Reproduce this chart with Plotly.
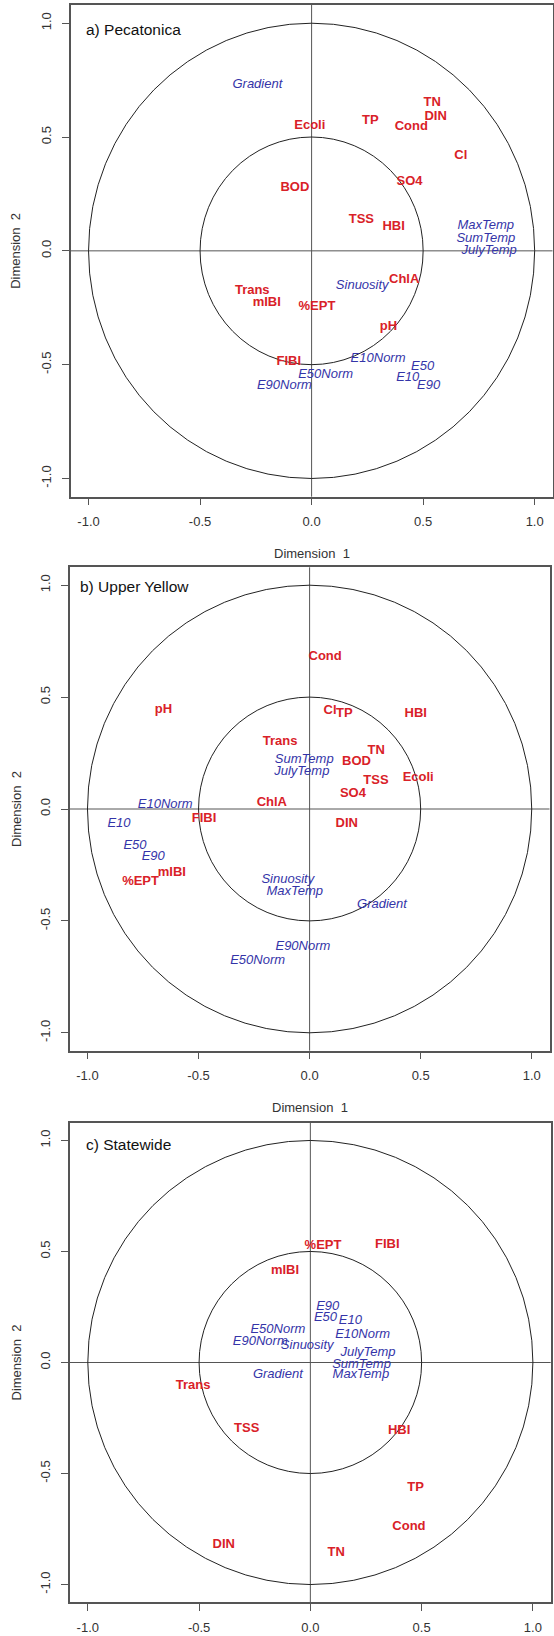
import plotly.graph_objects as go

W, H = 554, 1636

RED = "#d92128"
BLUE = "#3434a8"
FONT = "Liberation Sans, Arial, Helvetica, sans-serif"

TICK_VALS = [-1.0, -0.5, 0.0, 0.5, 1.0]
TICK_TEXT = ["-1.0", "-0.5", "0.0", "0.5", "1.0"]
CIRCLE_RADII = [1.0, 0.5]

# ---- a) Pecatonica ----
pec_title = "a) Pecatonica"
pec_resp_labels = ["Ecoli", "TP", "TN", "DIN", "Cond", "Cl", "SO4", "BOD", "TSS", "HBI",
                   "ChlA", "Trans", "mIBI", "%EPT", "pH", "FIBI"]
pec_resp_x = [-0.008, 0.263, 0.541, 0.556, 0.447, 0.669, 0.439, -0.075, 0.223, 0.368,
              0.415, -0.266, -0.201, 0.024, 0.345, -0.102]
pec_resp_y = [0.551, 0.572, 0.649, 0.591, 0.543, 0.419, 0.303, 0.276, 0.135, 0.104,
              -0.125, -0.174, -0.228, -0.244, -0.335, -0.485]
pec_env_labels = ["Gradient", "MaxTemp", "SumTemp", "JulyTemp", "Sinuosity", "E10Norm",
                  "E50", "E50Norm", "E10", "E90Norm", "E90"]
pec_env_x = [-0.243, 0.781, 0.781, 0.796, 0.227, 0.298, 0.498, 0.063, 0.431, -0.122, 0.525]
pec_env_y = [0.731, 0.112, 0.054, 0.000, -0.152, -0.476, -0.509, -0.546, -0.556, -0.593, -0.593]

# ---- b) Upper Yellow ----
uy_title = "b) Upper Yellow"
uy_resp_labels = ["Cond", "pH", "Cl", "TP", "HBI", "Trans", "TN", "BOD", "TSS", "Ecoli",
                  "SO4", "ChlA", "FIBI", "DIN", "mIBI", "%EPT"]
uy_resp_x = [0.070, -0.658, 0.092, 0.156, 0.478, -0.133, 0.300, 0.211, 0.299, 0.489,
             0.195, -0.170, -0.475, 0.167, -0.620, -0.761]
uy_resp_y = [0.680, 0.444, 0.438, 0.426, 0.426, 0.301, 0.262, 0.212, 0.128, 0.140,
             0.069, 0.028, -0.045, -0.067, -0.284, -0.324]
uy_env_labels = ["SumTemp", "JulyTemp", "E10Norm", "E10", "E50", "E90", "Sinuosity",
                 "MaxTemp", "Gradient", "E90Norm", "E50Norm"]
uy_env_x = [-0.024, -0.035, -0.650, -0.858, -0.786, -0.704, -0.098, -0.067, 0.326, -0.030, -0.234]
uy_env_y = [0.218, 0.168, 0.017, -0.064, -0.165, -0.214, -0.316, -0.368, -0.428, -0.615, -0.678]

# ---- c) Statewide ----
sw_title = "c) Statewide"
sw_resp_labels = ["%EPT", "FIBI", "mIBI", "Trans", "TSS", "HBI", "TP", "Cond", "DIN", "TN"]
sw_resp_x = [0.057, 0.346, -0.114, -0.527, -0.286, 0.399, 0.473, 0.443, -0.389, 0.116]
sw_resp_y = [0.525, 0.529, 0.414, -0.105, -0.298, -0.307, -0.562, -0.742, -0.820, -0.858]
sw_env_labels = ["E90", "E50", "E10", "E50Norm", "E10Norm", "E90Norm", "Sinuosity",
                 "JulyTemp", "SumTemp", "Gradient", "MaxTemp"]
sw_env_x = [0.078, 0.068, 0.180, -0.146, 0.235, -0.225, -0.014, 0.259, 0.230, -0.146, 0.227]
sw_env_y = [0.253, 0.200, 0.188, 0.148, 0.123, 0.093, 0.076, 0.046, -0.010, -0.055, -0.056]

# plot boxes in pixels: (left, right, top, bottom)
panels = [
    dict(title=pec_title, box=(70.7, 552.5, 5.0, 496.7), title_pos=(83.7, 30.0), xtitle=True,
         resp=(pec_resp_labels, pec_resp_x, pec_resp_y), env=(pec_env_labels, pec_env_x, pec_env_y)),
    dict(title=uy_title, box=(69.7, 549.5, 567.3, 1050.7), title_pos=(78.4, 586.0), xtitle=True,
         resp=(uy_resp_labels, uy_resp_x, uy_resp_y), env=(uy_env_labels, uy_env_x, uy_env_y)),
    dict(title=sw_title, box=(70.0, 550.7, 1122.7, 1602.3), title_pos=(83.7, 1144.3), xtitle=False,
         resp=(sw_resp_labels, sw_resp_x, sw_resp_y), env=(sw_env_labels, sw_env_x, sw_env_y)),
]

fig = go.Figure()
layout = dict(
    width=W, height=H,
    margin=dict(l=0, r=0, t=0, b=0),
    paper_bgcolor="white", plot_bgcolor="white",
    showlegend=False,
    font=dict(family=FONT, size=13, color="#333333"),
)
shapes = []
annotations = []

for i, p in enumerate(panels, start=1):
    sfx = "" if i == 1 else str(i)
    xa, ya = "x" + sfx, "y" + sfx
    left, right, top, bottom = p["box"]
    xdom = [left / W, right / W]
    ydom = [1 - bottom / H, 1 - top / H]
    axis_common = dict(
        range=[-1.08, 1.08], tickmode="array", tickvals=TICK_VALS, ticktext=TICK_TEXT,
        ticks="outside", ticklen=7, tickwidth=1, tickcolor="#555555",
        showline=True, mirror=True, linecolor="#555555", linewidth=1.5,
        showgrid=False, zeroline=False, fixedrange=True,
        tickfont=dict(family=FONT, size=13, color="#333333"),
    )
    layout["xaxis" + sfx] = dict(axis_common, domain=xdom, anchor=ya, ticklabelstandoff=5)
    layout["yaxis" + sfx] = dict(axis_common, domain=ydom, anchor=xa, tickangle=-90,
                                 ticklabelstandoff=6)

    # reference axes through the origin
    shapes.append(dict(type="line", xref=xa, yref=ya + " domain", x0=0, x1=0, y0=0, y1=1,
                       line=dict(color="#555555", width=1), layer="below"))
    shapes.append(dict(type="line", xref=xa + " domain", yref=ya, x0=0, x1=1, y0=0, y1=0,
                       line=dict(color="#555555", width=1), layer="below"))
    # correlation circles
    for r in CIRCLE_RADII:
        shapes.append(dict(type="circle", xref=xa, yref=ya, x0=-r, x1=r, y0=-r, y1=r,
                           line=dict(color="#222222", width=1), layer="below"))

    labels, xs, ys = p["resp"]
    fig.add_trace(go.Scatter(
        x=xs, y=ys, text=labels, mode="text", textposition="middle center",
        textfont=dict(family=FONT, size=13, color=RED, weight="bold"),
        xaxis=xa, yaxis=ya, hoverinfo="skip", cliponaxis=False))
    labels, xs, ys = p["env"]
    fig.add_trace(go.Scatter(
        x=xs, y=ys, text=labels, mode="text", textposition="middle center",
        textfont=dict(family=FONT, size=13, color=BLUE, style="italic"),
        xaxis=xa, yaxis=ya, hoverinfo="skip", cliponaxis=False))

    # panel title
    tx, ty = p["title_pos"]
    annotations.append(dict(text=p["title"], xref="paper", yref="paper",
                            x=tx / W, y=1 - ty / H, xanchor="left", yanchor="middle",
                            showarrow=False, font=dict(family=FONT, size=15.5, color="#111111")))
    # axis titles
    if p["xtitle"]:
        annotations.append(dict(text="Dimension\u00a0\u00a01", xref="paper", yref="paper",
                                x=(left + right) / 2 / W, y=1 - (bottom + 56.6) / H,
                                xanchor="center", yanchor="middle", showarrow=False,
                                font=dict(family=FONT, size=13, color="#333333")))
    annotations.append(dict(text="Dimension\u00a0\u00a02", xref="paper", yref="paper",
                            x=16 / W, y=1 - (top + bottom) / 2 / H, textangle=-90,
                            xanchor="center", yanchor="middle", showarrow=False,
                            font=dict(family=FONT, size=13, color="#333333")))

layout["shapes"] = shapes
layout["annotations"] = annotations
fig.update_layout(**layout)

fig.write_html("out.html")
